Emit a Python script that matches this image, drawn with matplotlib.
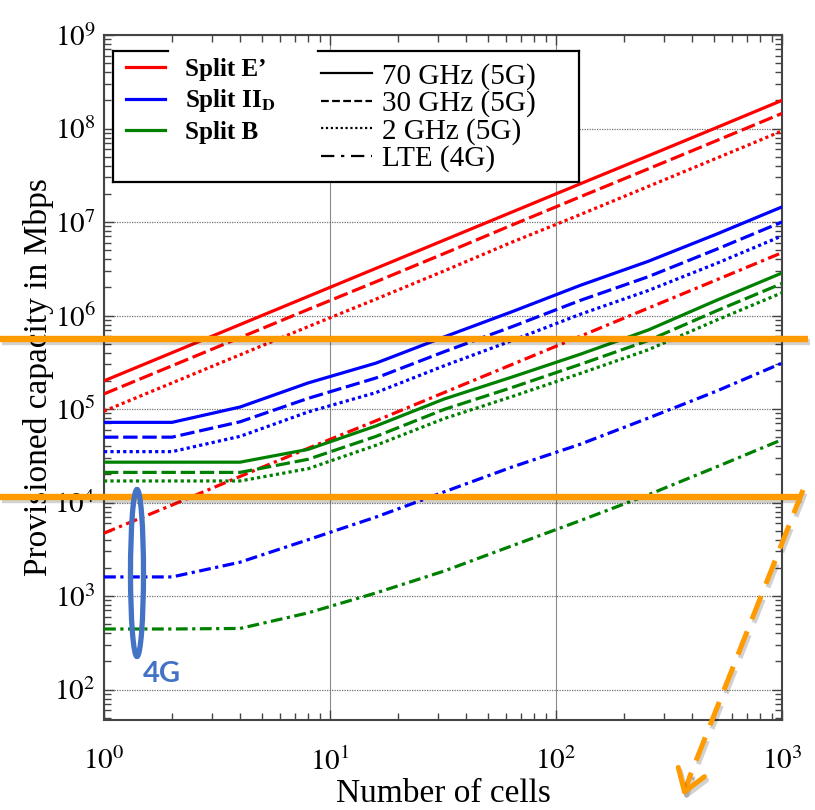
import numpy as np
import matplotlib.pyplot as plt
import matplotlib.patheffects as pe
from matplotlib.lines import Line2D
from matplotlib.patches import Ellipse, Rectangle, FancyArrowPatch
from matplotlib.ticker import LogLocator, NullFormatter, FuncFormatter, FixedLocator

plt.rcParams['font.family'] = 'Liberation Serif'
plt.rcParams['mathtext.fontset'] = 'stix'

# number of cells (x axis)
cells = [1, 2, 4, 8, 16, 32, 64, 128, 256, 512, 1000]

# Split E'
e_70 = [2.0e5, 4.0e5, 8.0e5, 1.6e6, 3.2e6, 6.4e6, 1.28e7, 2.56e7, 5.1e7, 1.02e8, 2.0e8]
e_30 = [1.45e5, 2.9e5, 5.8e5, 1.16e6, 2.3e6, 4.6e6, 9.3e6, 1.86e7, 3.7e7, 7.4e7, 1.45e8]
e_2 = [9.5e4, 1.9e5, 3.8e5, 7.6e5, 1.5e6, 3.0e6, 6.1e6, 1.2e7, 2.4e7, 4.8e7, 9.4e7]
e_lte = [4.7e3, 9.4e3, 1.9e4, 3.8e4, 7.5e4, 1.5e5, 3.0e5, 6.0e5, 1.2e6, 2.4e6, 4.7e6]

# Split II_D
ii_70 = [7.2e4, 7.2e4, 1.05e5, 1.9e5, 3.1e5, 5.9e5, 1.1e6, 2.1e6, 3.8e6, 7.4e6, 1.45e7]
ii_30 = [5.0e4, 5.0e4, 7.3e4, 1.3e5, 2.15e5, 4.1e5, 7.6e5, 1.45e6, 2.6e6, 5.1e6, 1.0e7]
ii_2 = [3.5e4, 3.5e4, 5.1e4, 9.3e4, 1.5e5, 2.9e5, 5.4e5, 1.03e6, 1.85e6, 3.6e6, 7.1e6]
ii_lte = [1.6e3, 1.6e3, 2.3e3, 4.0e3, 7.0e3, 1.3e4, 2.4e4, 4.2e4, 8.0e4, 1.55e5, 3.1e5]

# Split B
b_70 = [2.7e4, 2.7e4, 2.7e4, 3.7e4, 6.6e4, 1.28e5, 2.2e5, 3.85e5, 7.0e5, 1.45e6, 2.85e6]
b_30 = [2.1e4, 2.1e4, 2.1e4, 2.9e4, 5.1e4, 9.9e4, 1.7e5, 3.0e5, 5.4e5, 1.12e6, 2.2e6]
b_2 = [1.7e4, 1.7e4, 1.7e4, 2.3e4, 4.1e4, 7.9e4, 1.36e5, 2.4e5, 4.3e5, 8.9e5, 1.75e6]
b_lte = [444, 444, 450, 660, 1.08e3, 1.85e3, 3.45e3, 6.4e3, 1.21e4, 2.4e4, 4.7e4]

split_labels = ['Split E\u2019', r'Split II$_{\mathbf{D}}$', 'Split B']
split_colors = ['#ff0000', '#0000ff', '#008000']
band_labels = ['70 GHz (5G)', '30 GHz (5G)', '2 GHz (5G)', 'LTE (4G)']

x_ticks = [1, 10, 100, 1000]
y_ticks = [1e2, 1e3, 1e4, 1e5, 1e6, 1e7, 1e8, 1e9]

styles = ['-', (0, (4.5, 1.5)), (0, (1, 1)), (0, (3.7, 1.4, 1, 1.4))]
leg_styles = ['-', (0, (3.5, 1.5)), (0, (1, 1.2)), (0, (6, 3, 1.5, 3))]

series = [
    [e_70, e_30, e_2, e_lte],
    [ii_70, ii_30, ii_2, ii_lte],
    [b_70, b_30, b_2, b_lte],
]

fig = plt.figure(figsize=(8.15, 8.1), dpi=100)
ax = fig.add_axes([104/815, 90/810, 678/815, 685/810])

for col, group in zip(split_colors, series):
    for ls, vals in zip(styles, group):
        ax.plot(cells, vals, color=col, ls=ls, lw=2.3, dash_capstyle='butt', zorder=3)

ax.set_xscale('log')
ax.set_yscale('log')

pow_fmt = FuncFormatter(lambda v, p: r'$\mathrm{10^{%d}}$' % round(np.log10(v)))
ax.xaxis.set_major_locator(FixedLocator(x_ticks))
ax.yaxis.set_major_locator(FixedLocator(y_ticks))
ax.xaxis.set_major_formatter(pow_fmt)
ax.yaxis.set_major_formatter(pow_fmt)
ax.xaxis.set_minor_locator(LogLocator(base=10, subs=np.arange(2, 10), numticks=100))
ax.yaxis.set_minor_locator(LogLocator(base=10, subs=np.arange(2, 10), numticks=100))
ax.xaxis.set_minor_formatter(NullFormatter())
ax.yaxis.set_minor_formatter(NullFormatter())

ax.tick_params(which='both', direction='in', top=True, right=True, color='#444444', width=1)
ax.tick_params(which='major', length=7, labelsize=21)
ax.tick_params(which='minor', length=5)
ax.tick_params(axis='x', which='major', pad=20)
ax.tick_params(axis='y', which='major', pad=6)

ax.xaxis.grid(True, which='major', ls='-', color='#8c8c8c', lw=0.8)
ax.yaxis.grid(True, which='major', ls=(0, (1, 1)), color='#707070', lw=0.9)
ax.set_axisbelow(True)
for sp in ax.spines.values():
    sp.set_linewidth(1.5)
    sp.set_color('#444444')

ax.set_xlabel('Number of cells', fontsize=24, labelpad=2)
ax.set_ylabel('Provisioned capacity in Mbps', fontsize=24, labelpad=0)


def fx(px):
    return px / 815


def fy(py):
    return 1 - py / 810


# legend box (white, frame with a gap on top as in the original)
L, R, T, B = 113, 579, 51, 182
ax.add_patch(Rectangle((fx(L), fy(B)), fx(R) - fx(L), fy(T) - fy(B), transform=fig.transFigure,
                       facecolor='white', edgecolor='none', zorder=4, clip_on=False))
for xs, ys in [([L, L], [T, B]), ([L, R], [B, B]), ([R, R], [B, T]), ([L, 168], [T, T]), ([318, R], [T, T])]:
    ax.add_line(Line2D([fx(v) for v in xs], [fy(v) for v in ys], transform=fig.transFigure,
                       color='black', lw=1.6, zorder=4.5, clip_on=False))

ax.set_xlim(1, 1000)
ax.set_ylim(10**1.674, 1e9)

h1 = [Line2D([], [], color=c, lw=2.3) for c in split_colors]
leg1 = ax.legend(h1, split_labels, loc='upper left', bbox_to_anchor=(fx(126), fy(58)),
                 bbox_transform=fig.transFigure, frameon=False, borderpad=0, borderaxespad=0,
                 handlelength=1.55, handletextpad=0.8, labelspacing=0.25,
                 prop={'family': 'Liberation Serif', 'weight': 'bold', 'size': 18})
ax.add_artist(leg1)
h2 = [Line2D([], [], color='black', lw=1.6, ls=s, dash_capstyle='butt') for s in leg_styles]
leg2 = ax.legend(h2, band_labels, loc='upper left', bbox_to_anchor=(fx(321), fy(63)),
                 bbox_transform=fig.transFigure, frameon=False, borderpad=0, borderaxespad=0,
                 handlelength=1.75, handletextpad=0.35, labelspacing=0.02,
                 prop={'family': 'Liberation Serif', 'size': 21})

# orange highlight lines and arrow
orange = '#ff9a00'
shadow = [pe.SimpleLineShadow(offset=(1.5, -2.5), shadow_color='black', alpha=0.18), pe.Normal()]
for y, x1 in [(339, 808), (497, 800)]:
    fig.add_artist(Line2D([0, fx(x1)], [fy(y), fy(y)], transform=fig.transFigure,
                          color=orange, lw=4.6, solid_capstyle='butt', zorder=10, path_effects=shadow))

fig.add_artist(Line2D([fx(803), fx(690)], [fy(490), fy(776)], transform=fig.transFigure,
                      color=orange, lw=3.6, ls=(0, (5, 2.6)), dash_capstyle='butt',
                      zorder=10, path_effects=shadow))
head = FancyArrowPatch((fx(690), fy(776)), (fx(683), fy(796)), transform=fig.transFigure,
                       arrowstyle='->,head_length=0.75,head_width=0.5', mutation_scale=20,
                       lw=3.6, color=orange, shrinkA=0, shrinkB=0, zorder=10)
head.set_path_effects(shadow)
fig.add_artist(head)

# 4G marker
fig.add_artist(Ellipse((fx(137), fy(573)), width=13/815, height=167/810, transform=fig.transFigure,
                       fill=False, edgecolor='#4472c4', lw=3.8, zorder=10))
fig.text(fx(162), fy(674), '4G', color='#4472c4', fontsize=21, fontweight='bold',
         family='Lato', ha='center', va='center', zorder=10)

fig.savefig('out.png', dpi=100)
